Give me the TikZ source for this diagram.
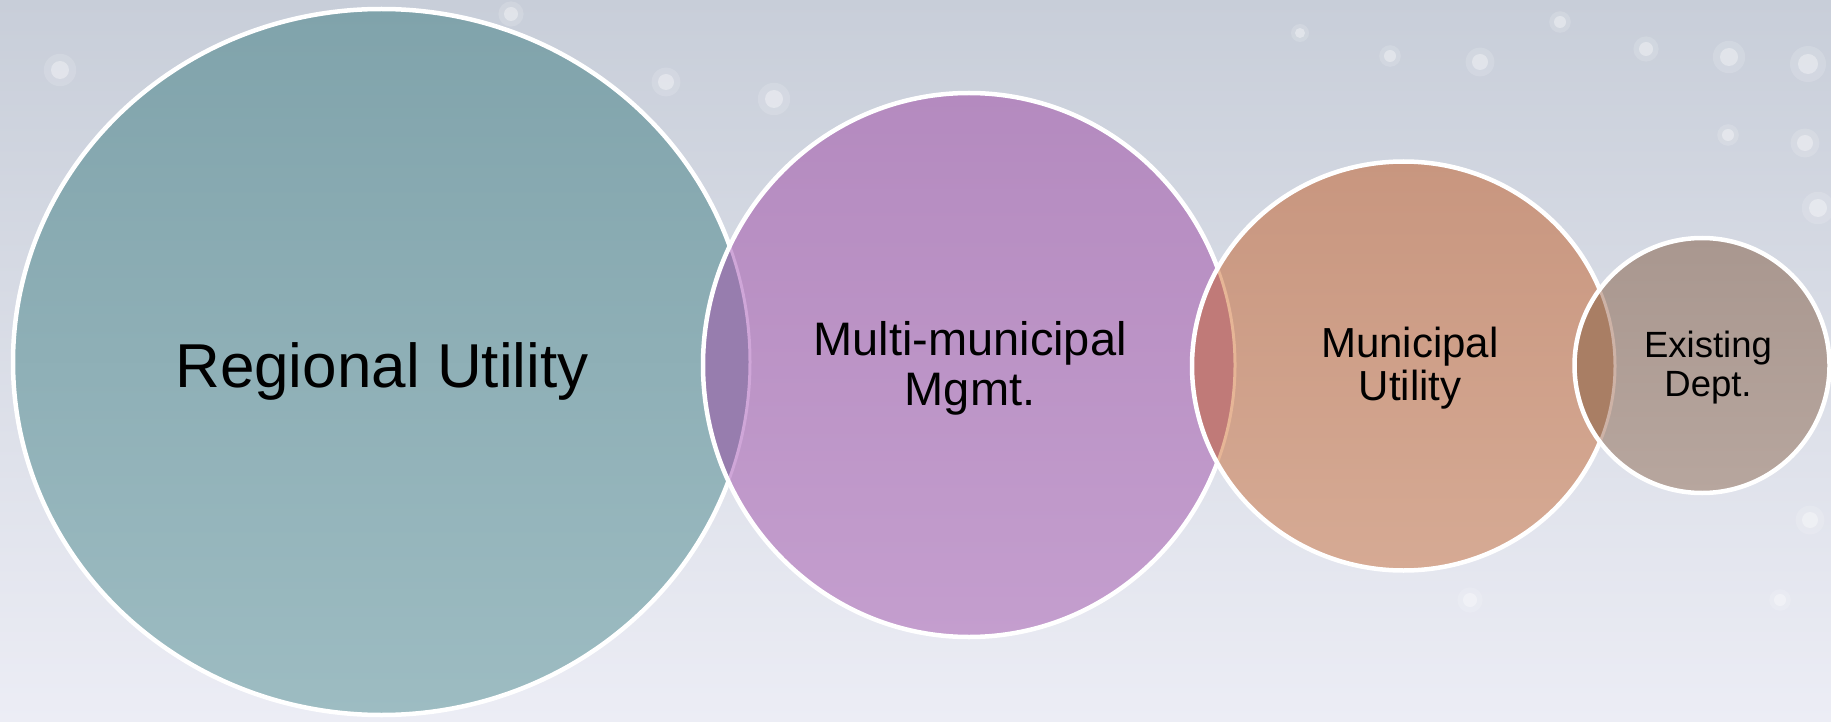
\documentclass[tikz,border=0pt]{standalone}
\usepackage{fontspec}
\setmainfont{Liberation Sans}
\usepackage{tikz}

% цвета фона и кругов
\definecolor{fonverh}{HTML}{C8CED9}
\definecolor{fonser}{HTML}{D4D9E3}
\definecolor{fonniz}{HTML}{ECEDF5}
\definecolor{birverh}{HTML}{80A3AB}
\definecolor{birniz}{HTML}{9DBCC2}
\definecolor{fioverh}{HTML}{B48ABF}
\definecolor{fioniz}{HTML}{C49ECE}
\definecolor{oranverh}{HTML}{C8967F}
\definecolor{oranniz}{HTML}{D6AA94}
\definecolor{korverh}{HTML}{A9978F}
\definecolor{korniz}{HTML}{B7A69E}
\definecolor{linza1}{HTML}{977DAE}
\definecolor{linza2}{HTML}{C07A78}
\definecolor{linza3}{HTML}{A97E64}
\definecolor{blik1}{HTML}{CFA6D8}
\definecolor{blik2}{HTML}{E6B596}
\definecolor{blik3}{HTML}{CDB2A6}

\begin{document}
\begin{tikzpicture}[x=1pt,y=-1pt,
	kontur/.style={draw=white,line width=4.5pt},
	blik/.style={line width=3pt},
	podpis/.style={inner sep=0pt,align=center,text=black}]
			% Фон
			\useasboundingbox (0,0) rectangle (1831,722);
			\shade[top color=fonverh,middle color=fonser,bottom color=fonniz] (0,0) rectangle (1831,722);
			\foreach \x/\y/\r in {511/14/7, 666/82/8, 774/99/9, 1390/56/6, 1480/62/8, 1646/49/7, 1729/57/9, 1808/64/10, 1728/135/6, 1805/143/8, 1818/208/9, 1300/33/5, 1560/22/6, 60/70/9, 1810/520/8, 1780/600/6, 1470/600/7}
			{
				\fill[white,opacity=0.15] (\x,\y) circle[radius=1.8*\r];
				\fill[white,opacity=0.35] (\x,\y) circle[radius=\r];
			}
			
			% Центры кругов
			\coordinate (k1) at (381.5,362);
			\coordinate (k2) at (969,365);
			\coordinate (k3) at (1403.5,366);
			\coordinate (k4) at (1702,365.5);
			
			% Большой круг
			\shade[top color=birverh,bottom color=birniz] (k1) ellipse [x radius=368.5, y radius=353];
			\draw[kontur] (k1) ellipse [x radius=368.5, y radius=353];
			
			% Второй круг и его пересечение с первым
			\shade[top color=fioverh,bottom color=fioniz] (k2) ellipse [x radius=266, y radius=272];
			\begin{scope}
				\clip (k2) ellipse [x radius=266, y radius=272];
				\fill[linza1] (k1) ellipse [x radius=368.5, y radius=353];
				\draw[blik,blik1] (k1) ellipse [x radius=368.5, y radius=353];
			\end{scope}
			\draw[kontur] (k2) ellipse [x radius=266, y radius=272];
			
			% Третий круг
			\shade[top color=oranverh,bottom color=oranniz] (k3) ellipse [x radius=211.5, y radius=204.5];
			\begin{scope}
				\clip (k3) ellipse [x radius=211.5, y radius=204.5];
				\fill[linza2] (k2) ellipse [x radius=266, y radius=272];
				\draw[blik,blik2] (k2) ellipse [x radius=266, y radius=272];
			\end{scope}
			\draw[kontur] (k3) ellipse [x radius=211.5, y radius=204.5];
			
			% Маленький круг справа
			\shade[top color=korverh,bottom color=korniz] (k4) circle [radius=127.5];
			\begin{scope}
				\clip (k4) circle [radius=127.5];
				\fill[linza3] (k3) ellipse [x radius=211.5, y radius=204.5];
				\draw[blik,blik3] (k3) ellipse [x radius=211.5, y radius=204.5];
			\end{scope}
			\draw[kontur] (k4) circle [radius=127.5];
			
			% Подписи
			\node[podpis,font=\fontsize{62}{62}\selectfont] (regional) at (382,371) {Regional Utility};
			\node[podpis,font=\fontsize{47}{50}\selectfont] (multi) at (970,368) {Multi-municipal\\Mgmt.};
			\node[podpis,font=\fontsize{42}{43}\selectfont] (municipal) at (1410,368) {Municipal\\Utility};
			\node[podpis,font=\fontsize{36.5}{39}\selectfont] (existing) at (1708,368) {Existing\\Dept.};
			
		\end{tikzpicture}
\end{document}
